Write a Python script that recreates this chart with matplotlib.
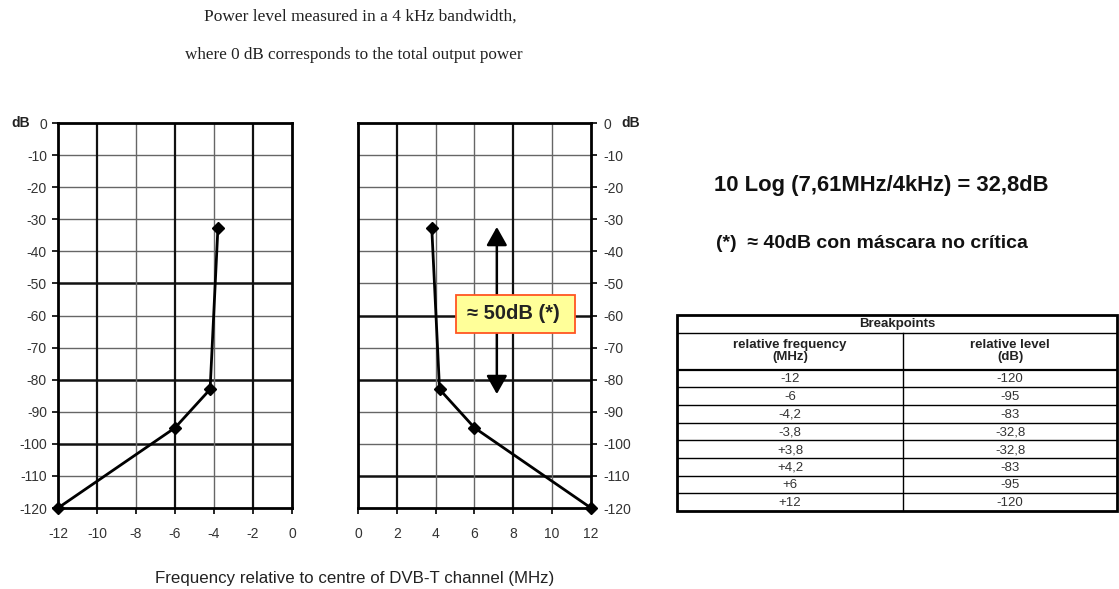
import matplotlib
matplotlib.use("Agg")
import matplotlib.pyplot as plt
from matplotlib.patches import Rectangle

plt.rcParams['font.family'] = ['Liberation Sans', 'DejaVu Sans']
plt.rcParams['axes.unicode_minus'] = False

# Spectrum mask breakpoints (MHz relative to channel centre, dB)
left_freq = [-12, -6, -4.2, -3.8]
left_level = [-120, -95, -83, -32.8]
right_freq = [3.8, 4.2, 6, 12]
right_level = [-32.8, -83, -95, -120]

y_ticks = list(range(0, -121, -10))
left_x_ticks = list(range(-12, 1, 2))
right_x_ticks = list(range(0, 13, 2))

# Heavier grid lines as they appear on the printed sheet
left_heavy_y = [-50, -80, -100]
left_heavy_x = [-10, -6, -2]
right_heavy_y = [-60, -80, -110]
right_heavy_x = [2, 8]

arrow_x = 7.15
arrow_top = -32.4
arrow_bottom = -84.5
margin_label = "≈ 50dB (*)"

title_lines = ["Power level measured in a 4 kHz bandwidth,",
               "where 0 dB corresponds to the total output power"]
xlabel = "Frequency relative to centre of DVB-T channel (MHz)"
formula = "10 Log (7,61MHz/4kHz) = 32,8dB"
footnote = "(*)  ≈ 40dB con máscara no crítica"

table_title = "Breakpoints"
table_cols = ["relative frequency\n(MHz)", "relative level\n(dB)"]


def fmt(v, plus=False):
    s = f"{v:+g}" if plus and v > 0 else f"{v:g}"
    return s.replace('.', ',')


W, H = 1119, 589
fig = plt.figure(figsize=(W / 100, H / 100), dpi=100)
fig.patch.set_facecolor('white')

tick_color = '#333333'


def px_axes(x0, y0, x1, y1):
    return fig.add_axes([x0 / W, 1 - y1 / H, (x1 - x0) / W, (y1 - y0) / H])


def style_panel(ax, xticks, heavy_x, heavy_y, yside):
    ax.set_ylim(-120, 0)
    ax.set_yticks(y_ticks)
    ax.set_xticks(xticks)
    for v in y_ticks[1:-1]:
        heavy = v in heavy_y
        ax.axhline(v, color='#111111' if heavy else '#666666',
                   lw=1.8 if heavy else 1.0, zorder=1)
    for v in xticks[1:-1]:
        heavy = v in heavy_x
        ax.axvline(v, color='#111111' if heavy else '#666666',
                   lw=1.6 if heavy else 1.0, zorder=1)
    for s in ax.spines.values():
        s.set_linewidth(2.0)
        s.set_color('black')
    ax.tick_params(axis='x', direction='out', length=4, width=1.2,
                   pad=10, labelsize=10, labelcolor=tick_color)
    ax.tick_params(axis='y', direction='out', length=4, width=1.2,
                   pad=4, labelsize=10, labelcolor=tick_color)
    if yside == 'right':
        ax.yaxis.tick_right()
        ax.tick_params(axis='y', pad=5)


# Lower-sideband panel
ax1 = px_axes(58, 123, 292, 508)
ax1.set_xlim(-12, 0)
style_panel(ax1, left_x_ticks, left_heavy_x, left_heavy_y, 'left')
ax1.plot(left_freq, left_level, color='black', lw=2.0, marker='D',
         markersize=6.5, zorder=5, clip_on=False)
ax1.text(-0.16, 1.0, "dB", transform=ax1.transAxes, ha='center', va='center',
         fontsize=10, fontweight='bold', color='#222222')

# Upper-sideband panel
ax2 = px_axes(358, 123, 591, 508)
ax2.set_xlim(0, 12)
style_panel(ax2, right_x_ticks, right_heavy_x, right_heavy_y, 'right')
ax2.plot(right_freq, right_level, color='black', lw=2.0, marker='D',
         markersize=6.5, zorder=5, clip_on=False)
ax2.text(1.17, 1.0, "dB", transform=ax2.transAxes, ha='center', va='center',
         fontsize=10, fontweight='bold', color='#222222')

# Double arrow marking the shoulder attenuation
ax2.annotate("", xy=(arrow_x, arrow_top), xytext=(arrow_x, arrow_bottom),
             arrowprops=dict(arrowstyle="<|-|>,head_length=0.8,head_width=0.45",
                             color='black', lw=1.8, mutation_scale=14,
                             shrinkA=0, shrinkB=0),
             zorder=6)
ax2.add_patch(Rectangle((5.05, -65.5), 6.13, 12.0, facecolor='#ffff99',
                        edgecolor='#ff5522', lw=1.3, zorder=7))
ax2.text(8.0, -59.5, margin_label, ha='center', va='center', fontsize=14.5,
         fontweight='bold', color='#222222', zorder=8)

# Headings
fig.text(360 / W, 1 - 17 / H, title_lines[0], ha='center', va='center',
         fontsize=12.5, family='Liberation Serif', color='#222222')
fig.text(354 / W, 1 - 55 / H, title_lines[1], ha='center', va='center',
         fontsize=12.3, family='Liberation Serif', color='#222222')
fig.text(355 / W, 1 - 578 / H, xlabel, ha='center', va='center',
         fontsize=12.2, color='#222222')

fig.text(714 / W, 1 - 185 / H, formula, ha='left', va='center',
         fontsize=15.8, fontweight='bold', color='#111111')
fig.text(716 / W, 1 - 243 / H, footnote, ha='left', va='center',
         fontsize=14, fontweight='bold', color='#111111')

# Breakpoint table
freqs = left_freq + right_freq
levels = left_level + right_level
rows = [(fmt(f, plus=True), fmt(l)) for f, l in zip(freqs, levels)]

axt = px_axes(677, 315, 1117, 511)
row_h = [1.0, 2.1] + [1.0] * len(rows)
total = sum(row_h)
axt.set_xlim(0, 1)
axt.set_ylim(total, 0)
axt.axis('off')
split = (903 - 677) / 440

axt.add_patch(Rectangle((0, 0), 1, total, fill=False, edgecolor='black',
                        lw=2.0, clip_on=False))
y = 0.0
edges = []
for h in row_h:
    y += h
    edges.append(y)
for i, e in enumerate(edges[:-1]):
    axt.plot([0, 1], [e, e], color='black', lw=1.6 if i == 1 else 1.0)
axt.plot([split, split], [row_h[0], total], color='black', lw=1.0)

axt.text(0.5, row_h[0] / 2, table_title, ha='center', va='center',
         fontsize=9.5, fontweight='bold', color='#222222')
yc = row_h[0] + row_h[1] / 2
axt.text(split / 2, yc, table_cols[0], ha='center', va='center', fontsize=9.5,
         fontweight='bold', color='#222222', linespacing=1.0)
axt.text((1 + split) / 2, yc, table_cols[1], ha='center', va='center',
         fontsize=9.5, fontweight='bold', color='#222222', linespacing=1.0)
y = row_h[0] + row_h[1]
for (fs, ls) in rows:
    axt.text(split / 2, y + 0.55, fs, ha='center', va='center', fontsize=9.5,
             color='#333333')
    axt.text((1 + split) / 2, y + 0.55, ls, ha='center', va='center',
             fontsize=9.5, color='#333333')
    y += 1.0

fig.savefig("out.png", dpi=100, facecolor='white')
